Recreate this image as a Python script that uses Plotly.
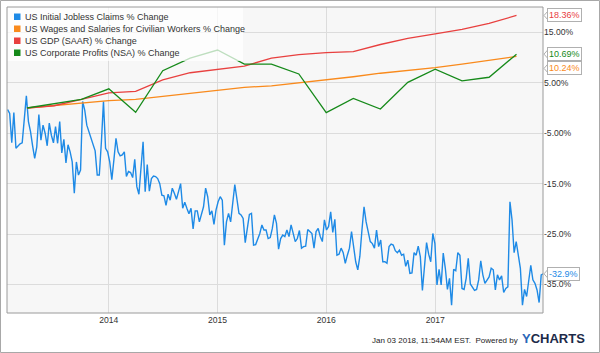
import pandas as pd
import plotly.graph_objects as go

# ---------------- data ----------------
quarter_start = "2013-04-01"
gdp = [0.0, 0.45, 1.7, 3.0, 3.3, 5.6, 7.0, 7.7, 8.3, 9.9, 10.6, 11.0, 11.2,
       12.6, 13.8, 14.7, 15.6, 16.8, 18.36]
wages = [0.0, 0.5, 1.0, 1.45, 1.7, 2.3, 2.85, 3.45, 4.1, 4.4, 5.0, 5.55, 6.2,
         6.9, 7.4, 8.0, 8.7, 9.45, 10.24]
profits = [0.0, 0.8, 1.7, 3.8, -0.85, 7.4, 9.9, 11.5, 8.7, 8.7, 6.75, -0.9,
           1.9, -0.2, 5.1, 7.7, 5.4, 6.1, 10.69]

weekly_start = "2013-01-26"
claims = [
    # 2013
    -0.3, -1.1, -6.9, -0.9, -8.0, -7.5, -7.1, -6.9, -2.0, 2.4, -2.7, -4.7,
    -7.5, -10.0, -7.7, -1.3, -6.4, -3.4, -5.0, -7.5, -3.0, -5.4, -6.9, -3.7,
    -7.0, -2.7, -8.9, -6.2, -10.9, -7.3, -8.7, -10.7, -16.9, -10.7, -13.3,
    -12.3, 1.3, -0.4, -3.4, -4.7, -5.6, -7.0, -8.5, -13.3, -13.3, -6.7, 1.3,
    -8.0, -8.7, -10.7, -14.2, -10.3, -6.0, -8.7, -9.5, -9.3, -8.7, -13.6,
    -12.6, -12.8, -13.8, -10.2, -15.6, -17.1, -11.0, -6.7,
    # 2014
    -16.6, -11.2, -16.5, -14.0, -13.5, -13.6, -14.0, -15.0, -17.3, -17.4,
    -19.3, -17.1, -18.3, -15.9, -16.9, -18.1, -16.6, -15.0, -19.9, -18.7,
    -19.9, -21.0, -19.9, -24.0, -20.4, -20.4, -22.6, -20.9, -19.6, -15.9,
    -17.6, -21.2, -20.4, -23.1, -20.2, -18.6, -17.6, -18.3, -27.2, -22.6,
    -20.9, -22.6, -19.3, -15.2, -18.0, -20.9, -21.2, -21.9, -26.7, -23.5,
    -21.1, -20.9, -27.2, -27.1, -25.9, -24.9, -23.2, -24.2, -24.2, -25.9,
    -25.7, -23.9, -21.2, -22.9, -28.0, -25.9,
    # 2015-2016
    -25.2, -25.5, -24.2, -25.5, -23.2, -25.2, -26.5, -25.9, -24.3, -27.8,
    -27.5, -27.4, -24.1, -24.5, -24.9, -27.8, -24.5, -23.9, -25.5, -26.5,
    -22.2, -24.2, -23.5, -20.6, -24.7, -22.1, -29.2, -29.0, -27.8, -28.7,
    -30.8, -29.2, -27.8, -24.5, -27.5, -30.5, -32.1, -29.4, -24.2, -19.6,
    -22.6, -24.5, -26.5, -26.9, -27.8, -24.2, -27.5, -26.2, -30.5, -30.5,
    -30.8, -27.5, -27.0, -27.2, -28.3, -28.7, -28.2, -29.2, -29.0, -31.4,
    -30.2, -32.8, -32.7, -28.7,
    # 2017
    -29.2, -27.4, -29.5, -36.2, -30.8, -26.7, -29.0, -30.5, -24.9, -26.9,
    -35.1, -32.0, -35.1, -28.8, -31.8, -36.0, -33.8, -39.1, -32.0, -32.3,
    -28.7, -29.2, -35.8, -36.0, -33.8, -29.8, -34.9, -35.5, -36.2, -36.0,
    -34.1, -30.3, -33.1, -34.8, -34.0, -33.5, -31.8, -32.1, -36.1, -33.1,
    -34.1, -33.3, -36.6, -35.8, -35.5, -18.6, -22.2, -28.7, -26.5, -28.8,
    -31.8, -39.1, -36.0, -37.4, -34.1, -31.2, -34.1, -34.8, -36.1, -38.6,
    -33.1, -32.9,
]

series_names = [
    "US Initial Jobless Claims % Change",
    "US Wages and Salaries for Civilian Workers % Change",
    "US GDP (SAAR) % Change",
    "US Corporate Profits (NSA) % Change",
]
colors = ["#1e8ae6", "#f98a1c", "#e8403f", "#168a1a"]
label_texts = ["-32.9%", "10.24%", "18.36%", "10.69%"]

y_tickvals = [15, 5, -5, -15, -25, -35]
y_ticktext = ["15.00%", "5.00%", "-5.00%", "-15.0%", "-25.0%", "-35.0%"]
x_tickvals = ["2014-01-01", "2015-01-01", "2016-01-01", "2017-01-01"]
x_ticktext = ["2014", "2015", "2016", "2017"]

# ---------------- build ----------------
qdates = pd.date_range(quarter_start, periods=len(gdp), freq="QS")
wdates = pd.date_range(weekly_start, periods=len(claims), freq="7D")

W, H = 600, 353
L, R, T, B = 7, 57, 7, 40
pw, ph = W - L - R, H - T - B
FONT = "Liberation Sans, Arial"


def px(xp):
    return (xp - L) / pw


def py(yp):
    return (H - B - yp) / ph


fig = go.Figure()
fig.add_trace(go.Scatter(x=wdates, y=claims, mode="lines", name=series_names[0],
                         line=dict(color=colors[0], width=1.4), showlegend=False))
fig.add_trace(go.Scatter(x=qdates, y=wages, mode="lines", name=series_names[1],
                         line=dict(color=colors[1], width=1.3), showlegend=False))
fig.add_trace(go.Scatter(x=qdates, y=gdp, mode="lines", name=series_names[2],
                         line=dict(color=colors[2], width=1.3), showlegend=False))
fig.add_trace(go.Scatter(x=qdates, y=profits, mode="lines", name=series_names[3],
                         line=dict(color=colors[3], width=1.3), showlegend=False))

shapes = []
# legend background (semi transparent, above traces)
shapes.append(dict(type="rect", xref="paper", yref="paper", x0=0, x1=px(243),
                   y0=py(61), y1=1, fillcolor="rgba(255,255,255,0.72)",
                   line=dict(width=0), layer="above"))
# plot border
shapes.append(dict(type="rect", xref="paper", yref="paper", x0=0, x1=1, y0=0, y1=1,
                   line=dict(color="#9a9a9a", width=1), layer="above"))
# outer frame
shapes.append(dict(type="rect", xref="paper", yref="paper",
                   x0=px(0.5), x1=px(W - 0.5), y0=py(H - 0.5), y1=py(0.5),
                   line=dict(color="#a8a8a8", width=1), layer="above"))

annotations = []
rows_y = [16.7, 28.7, 40.7, 52.7]
for name, col, yc in zip(series_names, colors, rows_y):
    shapes.append(dict(type="rect", xref="paper", yref="paper",
                       x0=px(14), x1=px(20.5), y0=py(yc + 3.3), y1=py(yc - 3.2),
                       fillcolor=col, line=dict(width=0), layer="above"))
    annotations.append(dict(text=name, xref="paper", yref="paper", x=px(23),
                            y=py(yc), xanchor="left", yanchor="middle",
                            showarrow=False, font=dict(size=9, color="#333333",
                                                       family=FONT)))

# value labels at right, with a small pointer notch
last_vals = [claims[-1], wages[-1], gdp[-1], profits[-1]]
shifts = [0, -12, 0, 0]
for txt, val, col, sh in zip(label_texts, last_vals, colors, shifts):
    shapes.append(dict(type="path", xref="paper", yref="y",
                       xsizemode="pixel", ysizemode="pixel",
                       xanchor=1, yanchor=val,
                       path=f"M 5,{sh + 4.5} L 1,{sh} L 5,{sh - 4.5} Z",
                       fillcolor="white", line=dict(color="#b0b0b0", width=1),
                       layer="above"))
    annotations.append(dict(text=txt, xref="paper", yref="y", x=1, y=val,
                            xanchor="left", yanchor="middle", xshift=4, yshift=sh,
                            showarrow=False, bgcolor="white", bordercolor="#b0b0b0",
                            borderwidth=1, borderpad=1,
                            font=dict(size=9, color=col, family=FONT)))

# footer
annotations.append(dict(text="Jan 03 2018, 11:54AM EST.  Powered by", xref="paper",
                        yref="paper", x=px(520), y=py(340), xanchor="right",
                        yanchor="middle", showarrow=False,
                        font=dict(size=8, color="#222222", family=FONT)))
annotations.append(dict(text="<b><span style='color:#2a66b8'>Y</span>CHARTS</b>",
                        xref="paper", yref="paper", x=px(520), y=py(338.5),
                        xanchor="left", yanchor="middle", showarrow=False,
                        font=dict(size=13, color="#1c2a48", family=FONT)))

fig.update_layout(
    width=W, height=H,
    margin=dict(l=L, r=R, t=T, b=B),
    paper_bgcolor="white",
    plot_bgcolor="#f7f7f7",
    showlegend=False,
    font=dict(family=FONT, size=9, color="#333333"),
    shapes=shapes,
    annotations=annotations,
    xaxis=dict(type="date", range=["2013-01-24", "2017-12-29"],
               tickvals=x_tickvals, ticktext=x_ticktext,
               showgrid=True, gridcolor="#dcdcdc", gridwidth=1,
               zeroline=False, showline=False, ticks="",
               tickfont=dict(size=8.6, color="#333333")),
    yaxis=dict(side="right", range=[-40.67, 20.04],
               tickvals=y_tickvals, ticktext=y_ticktext,
               showgrid=True, gridcolor="#dcdcdc", gridwidth=1,
               zeroline=False, showline=False, ticks="",
               tickfont=dict(size=8.6, color="#333333")),
)

fig.write_html("out.html")
